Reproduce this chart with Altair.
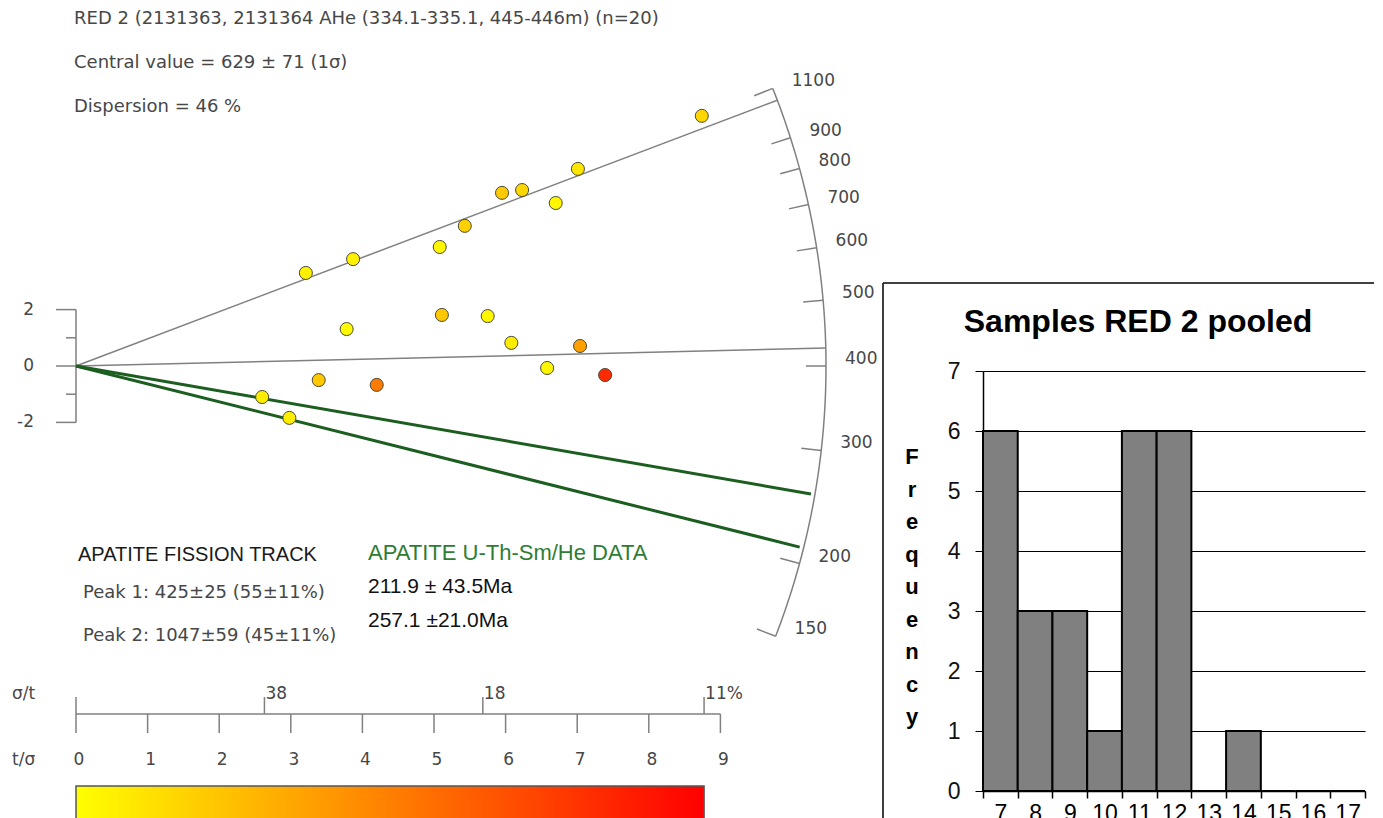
import math
import altair as alt
import pandas as pd

# ---------------- data ----------------
# radial plot: precision (t/sigma) and standardised estimate of each grain
prec = [8.74, 7.01, 5.95, 6.23, 6.70, 5.43, 5.08, 3.87, 3.21, 3.78,
        5.11, 5.75, 6.08, 7.04, 6.58, 7.39, 3.39, 4.20, 2.60, 2.98]
zstd = [8.87, 6.99, 6.14, 6.24, 5.78, 4.97, 4.22, 3.79, 3.30, 1.31,
        1.81, 1.77, 0.82, 0.71, -0.07, -0.32, -0.50, -0.67, -1.10, -1.84]
colour_val = [0.22, 0.14, 0.28, 0.22, 0.05, 0.25, 0.05, 0.08, 0.08, 0.02,
              0.30, 0.05, 0.10, 0.50, 0.05, 0.95, 0.30, 0.68, 0.10, 0.10]

ref_age = 400
arc_ticks = [150, 200, 300, 400, 500, 600, 700, 800, 900, 1100]
peak_ages = [425, 1047]
he_ages = [211.9, 257.1]
tsig_ticks = list(range(10))
sigt_pct = [38.0, 17.6, 11.4]
sigt_labels = ["38", "18", "11%"]
z_ticks = [-2, -1, 0, 1, 2]
z_labels = ["-2", "0", "2"]

hist_bins = ["7", "8", "9", "10", "11", "12", "13", "14", "15", "16", "17"]
hist_freq = [6, 3, 3, 1, 6, 6, 0, 1, 0, 0, 0]

text_top = ["RED 2 (2131363, 2131364 AHe (334.1-335.1, 445-446m) (n=20)",
            "Central value = 629 \u00b1 71  (1\u03c3)",
            "Dispersion = 46 %"]
aft_title = "APATITE FISSION TRACK"
aft_peaks = ["Peak 1: 425\u00b125 (55\u00b111%)", "Peak 2: 1047\u00b159 (45\u00b111%)"]
he_title = "APATITE U-Th-Sm/He DATA"
he_text = ["211.9 \u00b1 43.5Ma", "257.1 \u00b121.0Ma"]

# ---------------- layout (page pixels) ----------------
PAGE = 8
OX, OY = 76, 366          # origin of the radial plot
KX, KY = 71.6, 28.2       # px per unit of t/sigma and of z
R = 750                   # arc radius in px
W1, H1 = 870, 810
GREY = "#808080"
TXT = "#474747"
FONT = "DejaVu Sans"

xs = alt.Scale(domain=[(PAGE - OX) / KX, (PAGE + W1 - OX) / KX], nice=False, zero=False)
ys = alt.Scale(domain=[(OY - PAGE - H1) / KY, (OY - PAGE) / KY], nice=False, zero=False)


def theta(age):
    return math.atan(math.log(age / ref_age) * KY / KX)


def polar(age, r):
    t = theta(age)
    return r * math.cos(t) / KX, r * math.sin(t) / KY


def X(f):
    return alt.X(f, type="quantitative", scale=xs, axis=None)


def Y(f):
    return alt.Y(f, type="quantitative", scale=ys, axis=None)


# points
pts = pd.DataFrame({"prec": prec, "z": zstd, "c": colour_val})
points = alt.Chart(pts).mark_circle(size=170, opacity=1, stroke="#4a4a3a", strokeWidth=1).encode(
    x=X("prec"), y=Y("z"),
    color=alt.Color("c:Q", scale=alt.Scale(domain=[0, 1], range=["#ffff00", "#ff0000"]), legend=None),
)


def ray_df(ages, r):
    rows = []
    for a in ages:
        x1, y1 = polar(a, r)
        rows.append({"x0": 0.0, "y0": 0.0, "x1": x1, "y1": y1})
    return pd.DataFrame(rows)


peak_lines = alt.Chart(ray_df(peak_ages, R)).mark_rule(color=GREY, strokeWidth=1.5).encode(
    x=X("x0"), y=Y("y0"), x2=alt.X2("x1"), y2=alt.Y2("y1"))
he_lines = alt.Chart(ray_df(he_ages, R - 4)).mark_rule(color="#1b5e20", strokeWidth=3).encode(
    x=X("x0"), y=Y("y0"), x2=alt.X2("x1"), y2=alt.Y2("y1"))

# arc
t0, t1 = theta(min(arc_ticks)), theta(max(arc_ticks))
arc_rows = []
for i in range(121):
    t = t0 + (t1 - t0) * i / 120
    arc_rows.append({"i": i, "x": R * math.cos(t) / KX, "y": R * math.sin(t) / KY})
arc = alt.Chart(pd.DataFrame(arc_rows)).mark_line(color=GREY, strokeWidth=1.5).encode(
    x=X("x"), y=Y("y"), order="i:Q")

tick_rows = []
for a in arc_ticks:
    xa, ya = polar(a, R)
    xb, yb = polar(a, R - 20)
    tick_rows.append({"age": str(a), "xa": xa, "ya": ya, "xb": xb, "yb": yb})
tick_df = pd.DataFrame(tick_rows)
arc_tick = alt.Chart(tick_df).mark_rule(color=GREY, strokeWidth=1.5).encode(
    x=X("xa"), y=Y("ya"), x2=alt.X2("xb"), y2=alt.Y2("yb"))
arc_lab = alt.Chart(tick_df).mark_text(align="left", baseline="middle", dx=19, dy=-7,
                                       font=FONT, fontSize=17, color=TXT).encode(
    x=X("xa"), y=Y("ya"), text="age:N")

# left z axis
zdf = pd.DataFrame({"z": z_ticks, "len": [20 if v % 2 == 0 else 10 for v in z_ticks]})
zdf["x0"] = 0.0
zdf["x1"] = -zdf["len"] / KX
z_axis = alt.Chart(pd.DataFrame({"a": [min(z_ticks)], "b": [max(z_ticks)], "x": [0.0]})).mark_rule(
    color=GREY, strokeWidth=1.5).encode(x=X("x"), y=Y("a"), y2=alt.Y2("b"))
z_tick = alt.Chart(zdf).mark_rule(color=GREY, strokeWidth=1.5).encode(
    x=X("x0"), x2=alt.X2("x1"), y=Y("z"))
z_lab = alt.Chart(pd.DataFrame({"z": [float(v) for v in z_labels], "lab": z_labels})).mark_text(
    align="right", baseline="middle", font=FONT, fontSize=17, color=TXT).encode(
    x=alt.value(34 - PAGE), y=Y("z"), text="lab:N")

# bottom t/sigma axis
LINE = 714 - PAGE
base = alt.Chart(pd.DataFrame({"a": [min(tsig_ticks)], "b": [max(tsig_ticks)]})).mark_rule(
    color=GREY, strokeWidth=1.5).encode(x=X("a"), x2=alt.X2("b"), y=alt.value(LINE))
tdf = pd.DataFrame({"t": tsig_ticks})
t_tick = alt.Chart(tdf).mark_rule(color=GREY, strokeWidth=1.5).encode(
    x=X("t"), y=alt.value(LINE), y2=alt.value(LINE + 19))
t0_tick = alt.Chart(tdf.head(1)).mark_rule(color=GREY, strokeWidth=1.5).encode(
    x=X("t"), y=alt.value(LINE - 17), y2=alt.value(LINE))
t_lab = alt.Chart(tdf).mark_text(align="center", baseline="middle", dx=3, font=FONT,
                                 fontSize=17, color=TXT).encode(
    x=X("t"), y=alt.value(760 - PAGE), text="t:Q")
sdf = pd.DataFrame({"p": [100.0 / v for v in sigt_pct], "lab": sigt_labels})
s_tick = alt.Chart(sdf).mark_rule(color=GREY, strokeWidth=1.5).encode(
    x=X("p"), y=alt.value(LINE - 17), y2=alt.value(LINE))
s_lab = alt.Chart(sdf).mark_text(align="left", baseline="middle", dx=1, font=FONT,
                                 fontSize=17, color=TXT).encode(
    x=X("p"), y=alt.value(694 - PAGE), text="lab:N")

# colour bar
cbar = alt.Chart(pd.DataFrame({"a": [0.0], "b": [100.0 / min(sigt_pct)]})).mark_rect(
    color=alt.LinearGradient(gradient="linear", x1=0, x2=1, y1=0, y2=0,
                             stops=[alt.GradientStop(color="#ffff00", offset=0),
                                    alt.GradientStop(color="#ff0000", offset=1)]),
    stroke="#555555", strokeWidth=1.5).encode(
    x=X("a"), x2=alt.X2("b"), y=alt.value(786 - PAGE), y2=alt.value(H1 + 20))


def label(txt, px, py, size=18, color=TXT, font=FONT, weight="normal", align="left"):
    return alt.Chart(pd.DataFrame({"t": [txt]})).mark_text(
        align=align, baseline="middle", font=font, fontSize=size, color=color,
        fontWeight=weight).encode(x=alt.value(px - PAGE), y=alt.value(py - PAGE), text="t:N")


texts = [
    label(text_top[0], 74, 19),
    label(text_top[1], 74, 63),
    label(text_top[2], 74, 107),
    label("\u03c3/t", 12, 694, size=17),
    label("t/\u03c3", 12, 760, size=17),
    label(aft_title, 78, 555, size=20, color="#1a1a1a", font="Liberation Sans"),
    label(aft_peaks[0], 83, 593, size=18),
    label(aft_peaks[1], 83, 636, size=18),
    label(he_title, 368, 553, size=22, color="#2e7d32", font="Liberation Sans"),
    label(he_text[0], 368, 587, size=21, color="#111111", font="Liberation Sans"),
    label(he_text[1], 368, 621, size=21, color="#111111", font="Liberation Sans"),
]

radial = alt.layer(cbar, peak_lines, arc, arc_tick, arc_lab, z_axis, z_tick, z_lab,
                   base, t_tick, t0_tick, t_lab, s_tick, s_lab, he_lines, points,
                   *texts).properties(width=W1, height=H1)

# ---------------- histogram ----------------
HX = 983            # page x of histogram plot area
HTOP = 371          # page y of value 7
HBOT = 791          # page y of value 0
HW = 382
HH = HBOT - PAGE
hdf = pd.DataFrame({"bin": hist_bins, "freq": hist_freq})
HFONT = "Liberation Sans"

bars = alt.Chart(hdf).mark_bar(color="#808080", stroke="black", strokeWidth=2).encode(
    x=alt.X("bin:N", sort=hist_bins, title=None,
            scale=alt.Scale(paddingInner=0, paddingOuter=0),
            axis=alt.Axis(labelAngle=0, labelFont=HFONT, labelFontSize=23, labelColor="black",
                          domainColor="black", tickColor="black", tickSize=7, tickBand="extent",
                          labelPadding=4, domainWidth=1.5, tickWidth=1.5)),
    y=alt.Y("freq:Q", title=None,
            scale=alt.Scale(domain=[0, 7], range=[HH, HTOP - PAGE], nice=False),
            axis=alt.Axis(values=list(range(8)), grid=True, gridColor="black", gridWidth=1,
                          labelFont=HFONT, labelFontSize=23, labelColor="#111111",
                          domainColor="black", tickColor="black", tickSize=8,
                          labelPadding=15, domainWidth=1.5, tickWidth=1)),
)


def hlabel(txt, px, py, size, weight="bold"):
    return alt.Chart(pd.DataFrame({"t": [txt]})).mark_text(
        align="center", baseline="middle", font=HFONT, fontSize=size, color="black",
        fontWeight=weight).encode(x=alt.value(px - HX), y=alt.value(py - PAGE), text="t:N")


h_title = hlabel("Samples  RED 2 pooled", 1138, 322, 32)
h_ytitle = alt.Chart(pd.DataFrame({"t": [0]})).mark_text(
    align="center", baseline="middle", font=HFONT, fontSize=22, fontWeight="bold",
    color="black", lineHeight=32.5, text=list("Frequency")).encode(
    x=alt.value(912 - HX), y=alt.value(457 - PAGE))
frame_v = alt.Chart(pd.DataFrame({"t": [0]})).mark_rule(color="black", strokeWidth=1.5).encode(
    x=alt.value(883 - HX), y=alt.value(283 - PAGE), y2=alt.value(HH + 40))
frame_h = alt.Chart(pd.DataFrame({"t": [0]})).mark_rule(color="black", strokeWidth=1.5).encode(
    x=alt.value(883 - HX), x2=alt.value(1374 - HX), y=alt.value(283 - PAGE))

hist = alt.layer(frame_v, frame_h, bars, h_title, h_ytitle).properties(width=HW, height=HH)

chart = alt.hconcat(radial, hist, spacing=HX - PAGE - W1, bounds="flush").properties(
    padding=0).configure_view(strokeWidth=0)

chart.save("out.html", embed_options={"renderer": "svg", "actions": False})
